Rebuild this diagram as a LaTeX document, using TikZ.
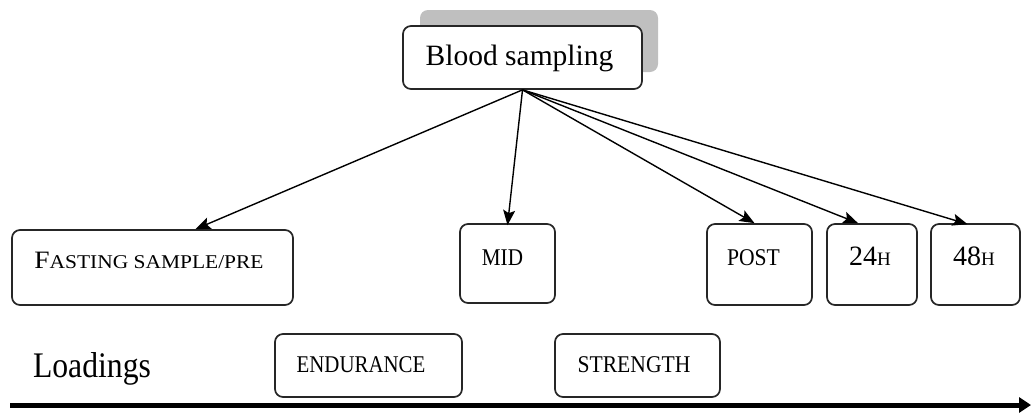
\documentclass[tikz,border=0pt]{standalone}
\usepackage{fontspec}
\setmainfont{Liberation Serif}
\usetikzlibrary{arrows.meta}
% horizontal-only scaling of a text run
\newcommand{\narrow}[2]{\scalebox{#1}[1]{#2}}
\newcommand{\fsz}[1]{\fontsize{#1}{#1}\selectfont}
\begin{document}
\begin{tikzpicture}[x=1pt,y=-1pt,
  box/.style={draw=black!85, line width=1.7pt, rounded corners=8pt, fill=white, inner sep=0pt},
  shadowbox/.style={fill=black!25, rounded corners=8pt, inner sep=0pt},
  txt/.style={inner sep=0pt, anchor=base},
  conn/.style={-{Stealth[length=15pt,width=12pt,inset=3pt]}, line width=1.4pt},
  axis/.style={-{Triangle[length=12pt,width=15pt]}, line width=5pt},
]
\useasboundingbox (0,0) rectangle (1031,418);

% top box with its offset shadow
\node[shadowbox, minimum width=238pt, minimum height=62pt] (bsshadow) at (539,41) {};
\node[box, minimum width=239pt, minimum height=63pt] (bs) at (522.5,57.5) {};
\node[txt, font=\fsz{29.5}] (bst) at (519.5,65) {Blood sampling};

% sampling time points
\node[box, minimum width=281pt, minimum height=75pt] (fast) at (152.5,267.5) {};
\node[txt] (fastt) at (149,268) {\narrow{1.1}{\fsz{25}F\fsz{19.5}ASTING SAMPLE/PRE}};

\node[box, minimum width=95pt, minimum height=79pt] (mid) at (507.5,263.5) {};
\node[txt, font=\fsz{24}] (midt) at (502.5,265) {\narrow{0.88}{MID}};

\node[box, minimum width=105pt, minimum height=81pt] (post) at (759.5,264.5) {};
\node[txt, font=\fsz{24}] (postt) at (753.5,265) {\narrow{0.9}{POST}};

\node[box, minimum width=90pt, minimum height=81pt] (h24) at (872,264.5) {};
\node[txt] (h24t) at (870,265) {\fsz{28}24\fsz{19}H};

\node[box, minimum width=89pt, minimum height=81pt] (h48) at (975.5,264.5) {};
\node[txt] (h48t) at (974,265) {\fsz{28}48\fsz{19}H};

% loadings row
\node[txt, font=\fsz{36}] (load) at (92,377) {\narrow{0.88}{Loadings}};

\node[box, minimum width=187pt, minimum height=63pt] (endu) at (368.5,365.5) {};
\node[txt, font=\fsz{24}] (endut) at (361,372) {\narrow{0.87}{ENDURANCE}};

\node[box, minimum width=165pt, minimum height=63pt] (str) at (637.5,365.5) {};
\node[txt, font=\fsz{24}] (strt) at (634,372) {\narrow{0.9}{STRENGTH}};

% connectors from the sampling box
\draw[conn] (bs.south) -- ([xshift=43pt]fast.north);
\draw[conn] (bs.south) -- ([yshift=-2pt]mid.north);
\draw[conn] (bs.south) -- ([xshift=-5pt]post.north);
\draw[conn] (bs.south) -- ([xshift=-14pt]h24.north);
\draw[conn] (bs.south) -- ([xshift=-8pt,yshift=-1pt]h48.north);

% time axis
\coordinate (tstart) at (10,405);
\coordinate (tend) at (1031,405);
\draw[axis] (tstart) -- (tend);
\end{tikzpicture}
\end{document}
